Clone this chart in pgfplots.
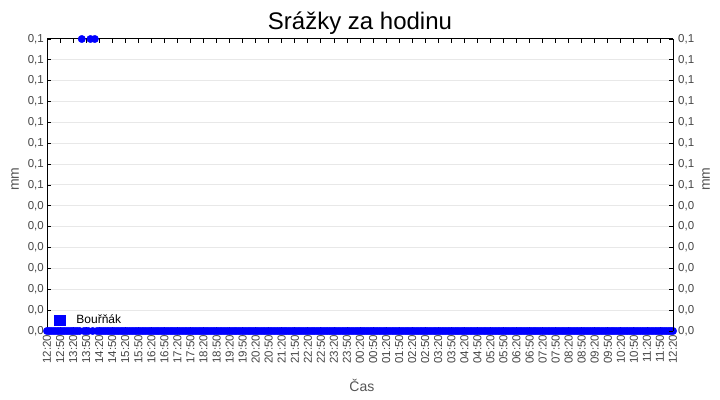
\documentclass[border=0pt]{standalone}
\usepackage{fontspec}
\setmainfont{Liberation Sans}
\usepackage{pgfplots}
\pgfplotsset{compat=1.18}

\definecolor{serie}{RGB}{0,0,255}
\definecolor{popis}{RGB}{68,68,68}
\definecolor{osa}{RGB}{85,85,85}
\definecolor{mrizka}{RGB}{232,232,232}

% srazky za hodinu, krok 5 min od 12:20 (t = minuty od zacatku)
\pgfplotstableread[row sep=\\]{
t mm\\
0 0\\ 5 0\\ 10 0\\ 15 0\\ 20 0\\ 25 0\\ 30 0\\ 35 0\\ 40 0\\ 45 0\\ 50 0\\ 55 0\\
60 0\\ 65 0\\ 70 0\\ 75 0\\ 80 0.1\\ 85 0\\ 90 0\\ 95 0\\ 100 0.1\\ 105 0\\ 110 0.1\\ 115 0\\
120 0\\ 125 0\\ 130 0\\ 135 0\\ 140 0\\ 145 0\\ 150 0\\ 155 0\\ 160 0\\ 165 0\\ 170 0\\ 175 0\\
180 0\\ 185 0\\ 190 0\\ 195 0\\ 200 0\\ 205 0\\ 210 0\\ 215 0\\ 220 0\\ 225 0\\ 230 0\\ 235 0\\
240 0\\ 245 0\\ 250 0\\ 255 0\\ 260 0\\ 265 0\\ 270 0\\ 275 0\\ 280 0\\ 285 0\\ 290 0\\ 295 0\\
300 0\\ 305 0\\ 310 0\\ 315 0\\ 320 0\\ 325 0\\ 330 0\\ 335 0\\ 340 0\\ 345 0\\ 350 0\\ 355 0\\
360 0\\ 365 0\\ 370 0\\ 375 0\\ 380 0\\ 385 0\\ 390 0\\ 395 0\\ 400 0\\ 405 0\\ 410 0\\ 415 0\\
420 0\\ 425 0\\ 430 0\\ 435 0\\ 440 0\\ 445 0\\ 450 0\\ 455 0\\ 460 0\\ 465 0\\ 470 0\\ 475 0\\
480 0\\ 485 0\\ 490 0\\ 495 0\\ 500 0\\ 505 0\\ 510 0\\ 515 0\\ 520 0\\ 525 0\\ 530 0\\ 535 0\\
540 0\\ 545 0\\ 550 0\\ 555 0\\ 560 0\\ 565 0\\ 570 0\\ 575 0\\ 580 0\\ 585 0\\ 590 0\\ 595 0\\
600 0\\ 605 0\\ 610 0\\ 615 0\\ 620 0\\ 625 0\\ 630 0\\ 635 0\\ 640 0\\ 645 0\\ 650 0\\ 655 0\\
660 0\\ 665 0\\ 670 0\\ 675 0\\ 680 0\\ 685 0\\ 690 0\\ 695 0\\ 700 0\\ 705 0\\ 710 0\\ 715 0\\
720 0\\ 725 0\\ 730 0\\ 735 0\\ 740 0\\ 745 0\\ 750 0\\ 755 0\\ 760 0\\ 765 0\\ 770 0\\ 775 0\\
780 0\\ 785 0\\ 790 0\\ 795 0\\ 800 0\\ 805 0\\ 810 0\\ 815 0\\ 820 0\\ 825 0\\ 830 0\\ 835 0\\
840 0\\ 845 0\\ 850 0\\ 855 0\\ 860 0\\ 865 0\\ 870 0\\ 875 0\\ 880 0\\ 885 0\\ 890 0\\ 895 0\\
900 0\\ 905 0\\ 910 0\\ 915 0\\ 920 0\\ 925 0\\ 930 0\\ 935 0\\ 940 0\\ 945 0\\ 950 0\\ 955 0\\
960 0\\ 965 0\\ 970 0\\ 975 0\\ 980 0\\ 985 0\\ 990 0\\ 995 0\\ 1000 0\\ 1005 0\\ 1010 0\\ 1015 0\\
1020 0\\ 1025 0\\ 1030 0\\ 1035 0\\ 1040 0\\ 1045 0\\ 1050 0\\ 1055 0\\ 1060 0\\ 1065 0\\ 1070 0\\ 1075 0\\
1080 0\\ 1085 0\\ 1090 0\\ 1095 0\\ 1100 0\\ 1105 0\\ 1110 0\\ 1115 0\\ 1120 0\\ 1125 0\\ 1130 0\\ 1135 0\\
1140 0\\ 1145 0\\ 1150 0\\ 1155 0\\ 1160 0\\ 1165 0\\ 1170 0\\ 1175 0\\ 1180 0\\ 1185 0\\ 1190 0\\ 1195 0\\
1200 0\\ 1205 0\\ 1210 0\\ 1215 0\\ 1220 0\\ 1225 0\\ 1230 0\\ 1235 0\\ 1240 0\\ 1245 0\\ 1250 0\\ 1255 0\\
1260 0\\ 1265 0\\ 1270 0\\ 1275 0\\ 1280 0\\ 1285 0\\ 1290 0\\ 1295 0\\ 1300 0\\ 1305 0\\ 1310 0\\ 1315 0\\
1320 0\\ 1325 0\\ 1330 0\\ 1335 0\\ 1340 0\\ 1345 0\\ 1350 0\\ 1355 0\\ 1360 0\\ 1365 0\\ 1370 0\\ 1375 0\\
1380 0\\ 1385 0\\ 1390 0\\ 1395 0\\ 1400 0\\ 1405 0\\ 1410 0\\ 1415 0\\ 1420 0\\ 1425 0\\ 1430 0\\ 1435 0\\
1440 0\\
}\srazky

\pgfplotsset{
  spolecne/.style={
    scale only axis,
    width=626bp, height=292bp,
    xmin=0, xmax=1440,
    ymin=0, ymax=0.1,
    ytick={0,0.00714286,0.0142857,0.0214286,0.0285714,0.0357143,0.0428571,0.05,
           0.0571429,0.0642857,0.0714286,0.0785714,0.0857143,0.0928571,0.1},
    yticklabels={{0,0},{0,0},{0,0},{0,0},{0,0},{0,0},{0,0},
                 {0,1},{0,1},{0,1},{0,1},{0,1},{0,1},{0,1},{0,1}},
    tick align=inside,
    major tick length=4bp,
    tick style={black, line width=0.8bp},
    axis line style={black, line width=1bp},
    yticklabel style={font=\fontsize{11.5bp}{13bp}\selectfont, text=popis, inner sep=0pt},
    clip=false,
  },
}

\begin{document}
\begin{tikzpicture}
\path[use as bounding box] (-47bp,-69bp) rectangle (673bp,331bp);
\begin{axis}[
  spolecne,
  axis y line*=left,
  xtick={0,30,...,1440},
  xticklabels={12:20,12:50,13:20,13:50,14:20,14:50,15:20,15:50,16:20,16:50,
    17:20,17:50,18:20,18:50,19:20,19:50,20:20,20:50,21:20,21:50,22:20,22:50,
    23:20,23:50,00:20,00:50,01:20,01:50,02:20,02:50,03:20,03:50,04:20,04:50,
    05:20,05:50,06:20,06:50,07:20,07:50,08:20,08:50,09:20,09:50,10:20,10:50,
    11:20,11:50,12:20},
  xticklabel style={font=\fontsize{11.5bp}{13bp}\selectfont, text=popis,
    rotate=90, anchor=east, inner sep=0pt, outer xsep=4bp},
  x tick style={black, line width=0.8bp},
  xmajorgrids=false,
  ymajorgrids=true,
  grid style={mrizka, line width=1bp},
  yticklabel style={xshift=-3bp},
  title={Srážky za hodinu},
  title style={font=\fontsize{24bp}{28bp}\selectfont, text=black,
    at={(axis description cs:0.5,1)}, anchor=base, yshift=4bp, inner sep=0pt},
  ylabel={mm},
  ylabel style={font=\fontsize{14bp}{16bp}\selectfont, text=osa,
    at={(axis description cs:-0.051,0.52)}, anchor=center, rotate=0},
  xlabel={Čas},
  xlabel style={font=\fontsize{14bp}{16bp}\selectfont, text=osa,
    at={(axis description cs:0.503,0)}, anchor=base, yshift=-60bp, inner sep=0pt},
  legend style={at={(axis description cs:0.011,0.012)}, anchor=south west,
    draw=none, fill=none, inner sep=0pt,
    font=\fontsize{12bp}{14bp}\selectfont,
    /tikz/every odd column/.append style={column sep=9bp}},
  legend cell align=left,
  legend image code/.code={\fill[serie] (0bp,-5bp) rectangle (11bp,5bp);},
]
\addplot[only marks, mark=*, mark size=3.7bp,
  mark options={draw=serie, fill=serie}] table[x=t, y=mm] {\srazky};
\addlegendentry{Bouřňák}

% horni hrana ramu
\draw[black, line width=1bp] (axis description cs:0,1) -- (axis description cs:1,1);
\end{axis}

\begin{axis}[
  spolecne,
  axis y line*=right,
  axis x line=none,
  yticklabel style={xshift=5bp},
  ylabel={mm},
  ylabel style={font=\fontsize{14bp}{16bp}\selectfont, text=osa,
    at={(axis description cs:1.0527,0.52)}, anchor=center, rotate=0},
]
\end{axis}
\end{tikzpicture}
\end{document}
